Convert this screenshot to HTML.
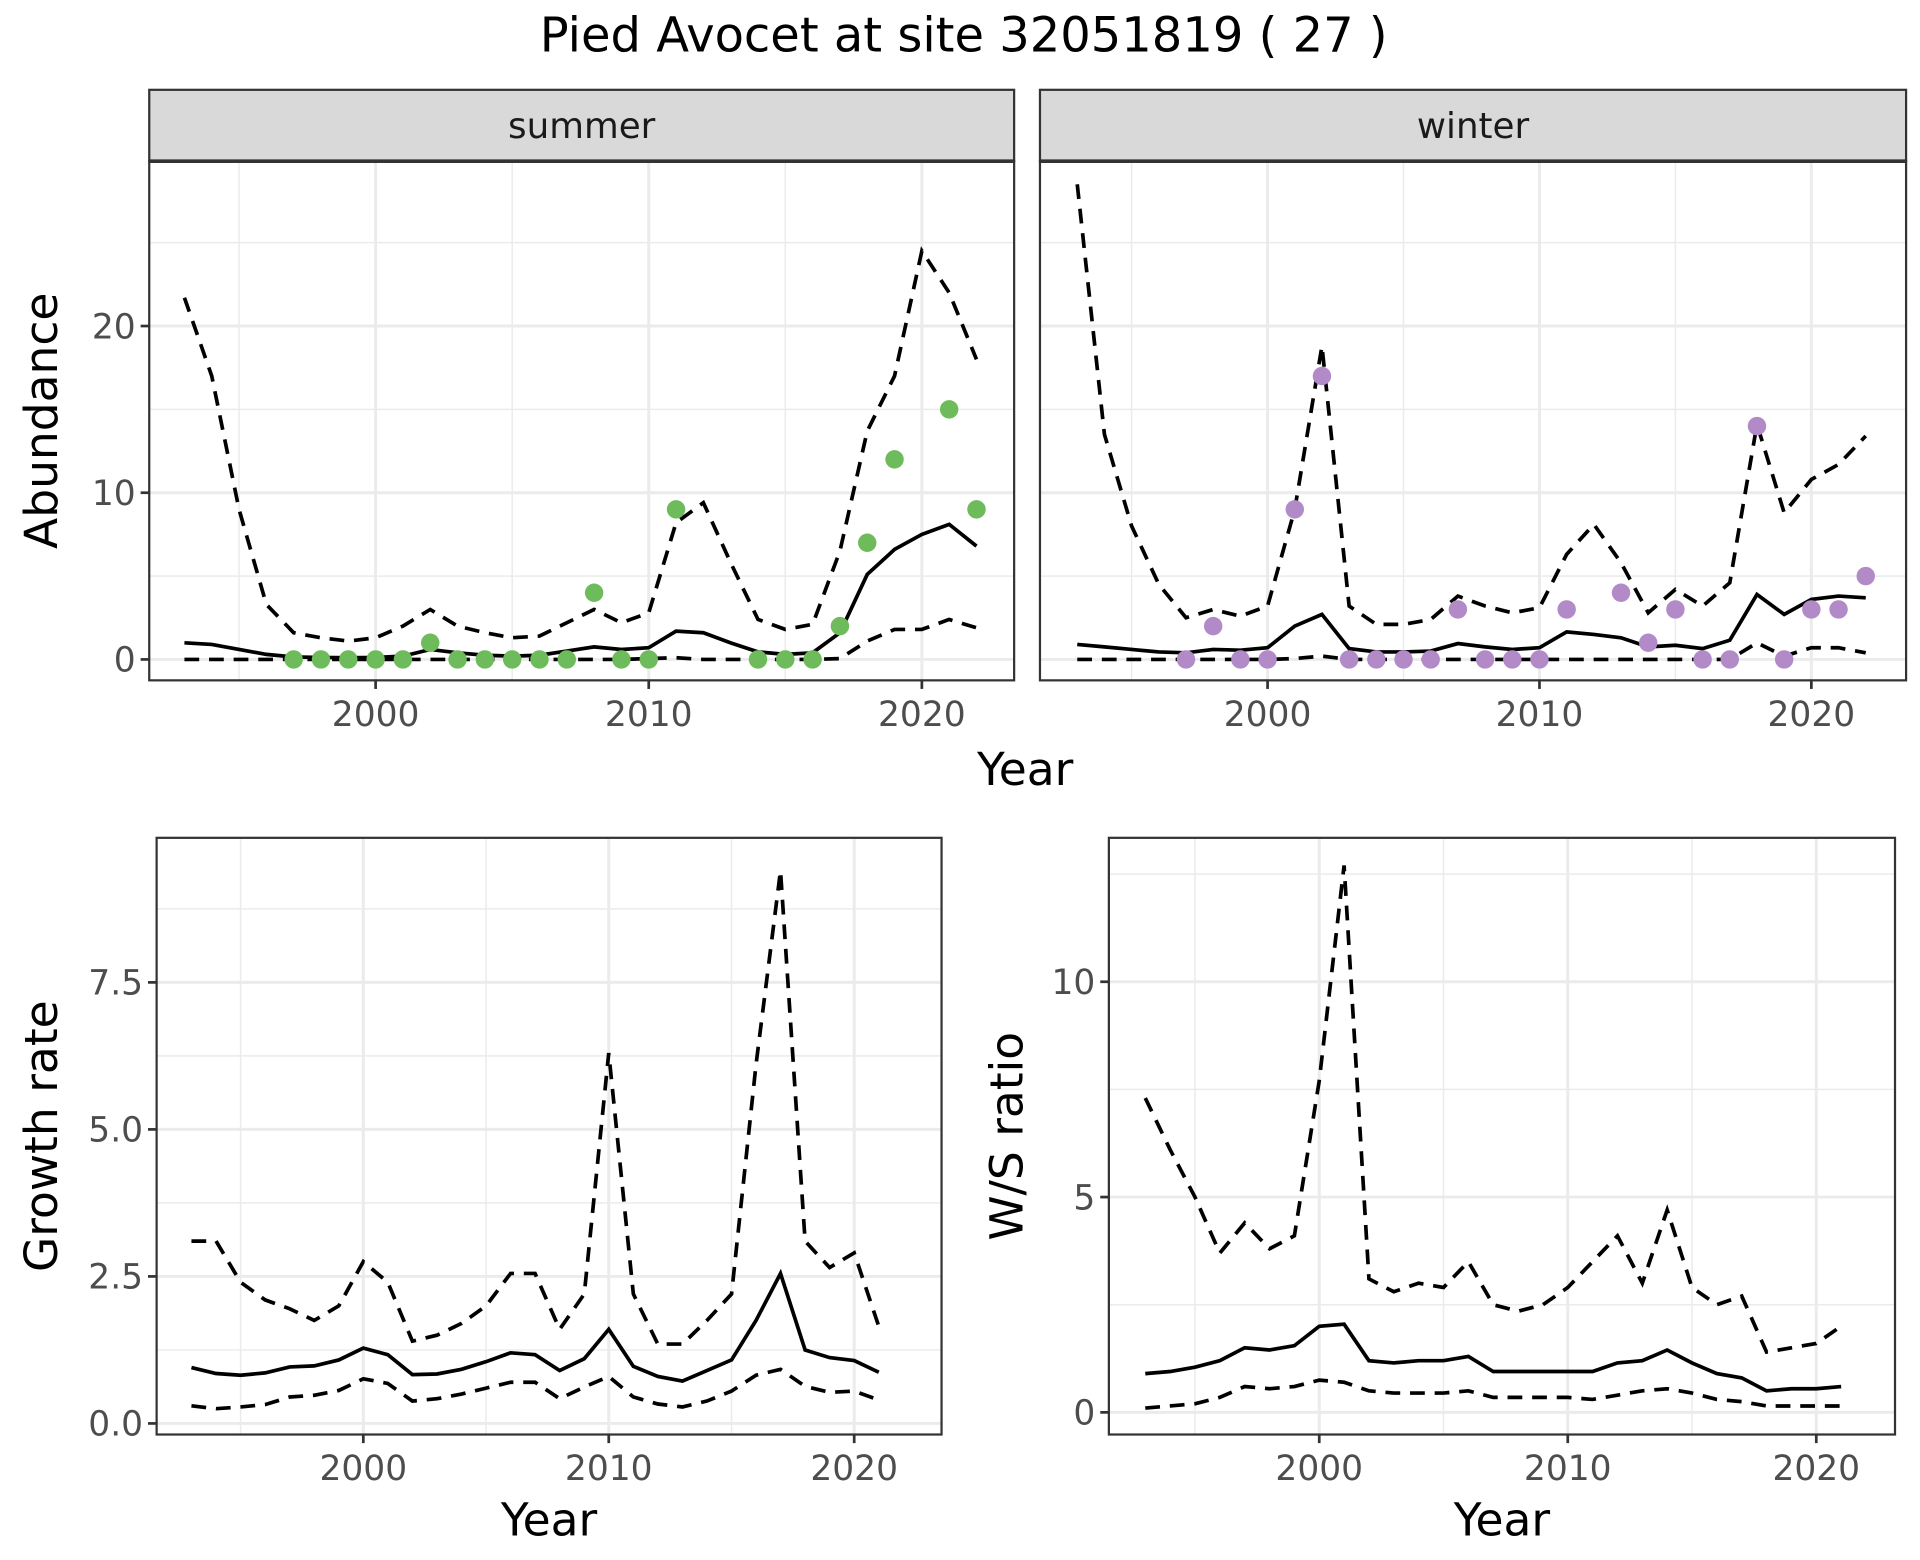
<!DOCTYPE html>
<html><head><meta charset="utf-8"><style>
html,body{margin:0;padding:0;background:#fff;}
svg{display:block;font-family:"DejaVu Sans","Liberation Sans",sans-serif;}
</style></head><body>
<svg id="chart" width="1920" height="1560" viewBox="0 0 1560 1268" xmlns="http://www.w3.org/2000/svg">
<rect x="0" y="0" width="1560" height="1268" fill="#fff"/>
<text x="783" y="42" font-size="39" text-anchor="middle" fill="#000">Pied Avocet at site 32051819 ( 27 )</text>
</svg>
<script>
// ---- data ----
const yearsAb = [1993,1994,1995,1996,1997,1998,1999,2000,2001,2002,2003,2004,2005,2006,2007,2008,2009,2010,2011,2012,2013,2014,2015,2016,2017,2018,2019,2020,2021,2022];
const summerUpper = [21.7,17,9,3.3,1.6,1.3,1.1,1.3,2,3,2,1.6,1.3,1.4,2.2,3,2.2,2.8,8.2,9.4,5.8,2.4,1.8,2.1,6.5,13.7,17,24.5,22,18];
const summerMean = [1.0,0.9,0.6,0.3,0.15,0.12,0.1,0.12,0.2,0.6,0.4,0.25,0.2,0.25,0.5,0.75,0.6,0.7,1.7,1.6,1.0,0.45,0.3,0.4,1.6,5.1,6.6,7.5,8.1,6.8];
const summerLower = [0,0,0,0,0,0,0,0,0,0,0,0,0,0,0,0,0,0.05,0.1,0,0,0,0,0,0.05,1.1,1.8,1.8,2.4,1.9];
const summerObsYears = [1997,1998,1999,2000,2001,2002,2003,2004,2005,2006,2007,2008,2009,2010,2011,2014,2015,2016,2017,2018,2019,2021,2022];
const summerObs = [0,0,0,0,0,1,0,0,0,0,0,4,0,0,9,0,0,0,2,7,12,15,9];
const winterUpper = [28.5,13.5,8,4.5,2.5,3.0,2.6,3.2,9,18.8,3.2,2.1,2.1,2.4,3.8,3.2,2.8,3.1,6.3,8.1,5.8,2.8,4.2,3.2,4.6,14.1,8.8,10.8,11.7,13.4];
const winterMean = [0.9,0.75,0.6,0.45,0.4,0.6,0.55,0.7,2.0,2.7,0.65,0.45,0.45,0.5,0.95,0.75,0.6,0.7,1.65,1.5,1.3,0.75,0.85,0.65,1.15,3.9,2.7,3.6,3.8,3.7];
const winterLower = [0,0,0,0,0,0,0,0,0.05,0.2,0,0,0,0,0,0,0,0,0,0,0,0,0,0,0,1.0,0.2,0.7,0.7,0.4];
const winterObsYears = [1997,1998,1999,2000,2001,2002,2003,2004,2005,2006,2007,2008,2009,2010,2011,2013,2014,2015,2016,2017,2018,2019,2020,2021,2022];
const winterObs = [0,2,0,0,9,17,0,0,0,0,3,0,0,0,3,4,1,3,0,0,14,0,3,3,5];
const yearsR = [1993,1994,1995,1996,1997,1998,1999,2000,2001,2002,2003,2004,2005,2006,2007,2008,2009,2010,2011,2012,2013,2014,2015,2016,2017,2018,2019,2020,2021];
const growthUpper = [3.1,3.1,2.4,2.1,1.95,1.75,2.0,2.75,2.4,1.4,1.5,1.7,2.0,2.55,2.55,1.6,2.2,6.3,2.2,1.35,1.35,1.75,2.2,6.1,9.4,3.1,2.65,2.9,1.65];
const growthMean = [0.95,0.85,0.82,0.86,0.96,0.98,1.08,1.28,1.17,0.83,0.84,0.92,1.05,1.2,1.17,0.9,1.1,1.6,0.97,0.8,0.72,0.9,1.08,1.75,2.55,1.25,1.12,1.07,0.87];
const growthLower = [0.3,0.25,0.28,0.32,0.45,0.48,0.56,0.76,0.68,0.38,0.42,0.5,0.6,0.7,0.7,0.42,0.62,0.8,0.45,0.33,0.28,0.38,0.55,0.82,0.92,0.63,0.53,0.55,0.4];
const ratioUpper = [7.3,6.1,5.0,3.7,4.4,3.8,4.1,7.7,12.7,3.1,2.8,3.0,2.9,3.5,2.5,2.35,2.5,2.9,3.5,4.1,3.0,4.7,2.9,2.5,2.7,1.4,1.5,1.6,2.0];
const ratioMean = [0.9,0.95,1.05,1.2,1.5,1.45,1.55,2.0,2.05,1.2,1.15,1.2,1.2,1.3,0.95,0.95,0.95,0.95,0.95,1.15,1.2,1.45,1.15,0.9,0.8,0.5,0.55,0.55,0.6];
const ratioLower = [0.1,0.15,0.2,0.35,0.6,0.55,0.6,0.75,0.7,0.5,0.45,0.45,0.45,0.5,0.35,0.35,0.35,0.35,0.3,0.4,0.5,0.55,0.45,0.3,0.25,0.15,0.15,0.15,0.15];
const xTicks = [2000,2010,2020];
const abTicks = [0,10,20];
const growthTicks = [0,2.5,5,7.5];
const growthTickLabels = ["0.0","2.5","5.0","7.5"];
const ratioTicks = [0,5,10];

const NS = "http://www.w3.org/2000/svg";
const svg = document.getElementById('chart');
function el(tag, attrs, parent){
  const e = document.createElementNS(NS, tag);
  for (const k in attrs) e.setAttribute(k, attrs[k]);
  (parent||svg).appendChild(e); return e;
}
function lin(d0,d1,r0,r1){ return v => r0 + (v-d0)*(r1-r0)/(d1-d0); }

function panel(p){
  const g = el('g',{});
  
  
  const X = lin(2000,2020,p.x2000,p.x2020), Y = lin(p.ya,p.yb,p.pya,p.pyb);
  el('rect',{x:p.l,y:p.t,width:p.r-p.l,height:p.b-p.t,fill:'#fff'},g);
  const step = (p.yb-p.ya)/2;
  for (let v=p.ya-step; v<=p.ymax; v+=step/2){
    const yy=Y(v); if(yy<p.t||yy>p.b) continue;
    el('line',{x1:p.l,x2:p.r,y1:yy,y2:yy,stroke:'#ebebeb','stroke-width':(Math.abs((v-p.ya)/step-Math.round((v-p.ya)/step))<1e-6)?2.4:1.2},g);
  }
  for (let v=1990; v<=2030; v+=5){
    const xx=X(v); if(xx<p.l||xx>p.r) continue;
    el('line',{x1:xx,x2:xx,y1:p.t,y2:p.b,stroke:'#ebebeb','stroke-width':(v%10===0)?2.4:1.2},g);
  }
  const line=(ys,vals,dash,nm)=>{
    const pts = ys.map((y,i)=>X(y).toFixed(1)+','+Y(vals[i]).toFixed(1)).join(' ');
    const pl = el('polyline',{points:pts,fill:'none',stroke:'#000','stroke-width':3,'stroke-dasharray':dash?'12,8':'none'},g);
    
    
  };
  line(p.years,p.lower,true,'lower-bound-line');
  line(p.years,p.upper,true,'upper-bound-line');
  line(p.years,p.mean,false,'mean-line');
  if (p.obsYears){
    p.obsYears.forEach((y,i)=>{
      const c = el('circle',{cx:X(y),cy:Y(p.obs[i]),r:7.5,fill:p.color},g);
      
      
    });
  }
  el('rect',{x:p.l,y:p.t,width:p.r-p.l,height:p.b-p.t,fill:'none',stroke:'#333','stroke-width':1.8},g);
  xTicks.forEach(v=>{
    const xx=X(v);
    el('line',{x1:xx,x2:xx,y1:p.b,y2:p.b+7,stroke:'#333','stroke-width':2.2},g);
    const t=el('text',{x:xx,y:p.b+37,'font-size':28,'text-anchor':'middle',fill:'#4d4d4d'},g);
    t.textContent=v;
    
    
  });
  if (p.yticks){
    p.yticks.forEach((v,i)=>{
      const yy=Y(v);
      el('line',{x1:p.l-7,x2:p.l,y1:yy,y2:yy,stroke:'#333','stroke-width':2.2},g);
      const t=el('text',{x:p.l-11,y:yy+10,'font-size':28,'text-anchor':'end',fill:'#4d4d4d'},g);
      t.textContent=p.ylabels?p.ylabels[i]:v;
      
      
    });
  }
  if (p.strip){
    el('rect',{x:p.l,y:p.t-58,width:p.r-p.l,height:58,fill:'#d9d9d9',stroke:'#333','stroke-width':1.8},g);
    el('line',{x1:p.l,x2:p.r,y1:p.t,y2:p.t,stroke:'#333','stroke-width':3},g);
    const t=el('text',{x:(p.l+p.r)/2,y:p.t-19,'font-size':29,'text-anchor':'middle',fill:'#1a1a1a'},g);
    t.textContent=p.strip;
    
    
  }
  if (p.xlabel){
    const t=el('text',{x:(p.l+p.r)/2,y:p.b+82,'font-size':37,'text-anchor':'middle',fill:'#000'},g);
    t.textContent='Year';
    
    
  }
  if (p.ylabel){
    const cy=(p.t+p.b)/2;
    const t=el('text',{x:p.ylx,y:cy,'font-size':37,'text-anchor':'middle',fill:'#000',transform:`rotate(-90 ${p.ylx} ${cy})`},g);
    t.textContent=p.ylabel;
    
    
  }
}

panel({name:'summer-panel',l:121,r:824,t:131,b:553,x2000:305,x2020:749,ya:0,yb:20,pya:536,pyb:265,ymax:30,
  years:yearsAb,upper:summerUpper,mean:summerMean,lower:summerLower,obsYears:summerObsYears,obs:summerObs,color:'#6dbb5a',
  yticks:abTicks,strip:'summer',ylabel:'Abundance',ylx:46});
panel({name:'winter-panel',l:845,r:1549,t:131,b:553,x2000:1030,x2020:1472,ya:0,yb:20,pya:536,pyb:265,ymax:30,
  years:yearsAb,upper:winterUpper,mean:winterMean,lower:winterLower,obsYears:winterObsYears,obs:winterObs,color:'#b38ac8',
  strip:'winter'});
const yt=el('text',{x:833,y:638,'font-size':37,'text-anchor':'middle',fill:'#000'});
yt.textContent='Year';


panel({name:'growth-rate-panel',l:127,r:765,t:681,b:1166,x2000:295,x2020:694,ya:0,yb:5,pya:1157,pyb:918,ymax:10,
  years:yearsR,upper:growthUpper,mean:growthMean,lower:growthLower,
  yticks:growthTicks,ylabels:growthTickLabels,xlabel:true,ylabel:'Growth rate',ylx:46});
panel({name:'ws-ratio-panel',l:901,r:1540,t:681,b:1166,x2000:1072,x2020:1476,ya:0,yb:10,pya:1148,pyb:798,ymax:14,
  years:yearsR,upper:ratioUpper,mean:ratioMean,lower:ratioLower,
  yticks:ratioTicks,xlabel:true,ylabel:'W/S ratio',ylx:831});
</script>
</body></html>
